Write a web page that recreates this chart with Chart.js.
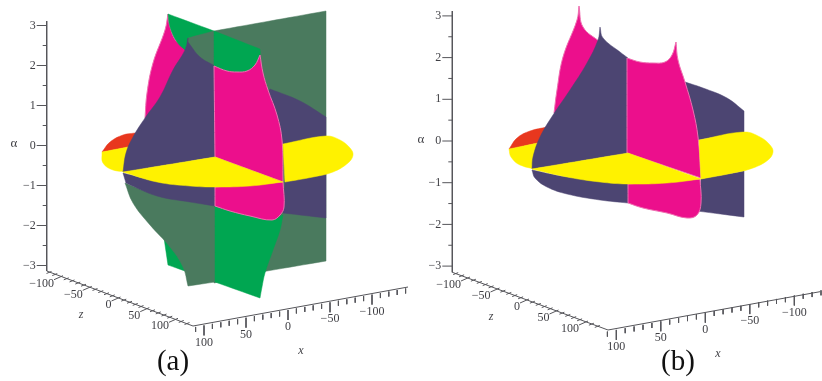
<!DOCTYPE html>
<html>
<head>
<meta charset="utf-8">
<title>Surfaces (a) and (b)</title>
<script src="https://cdn.jsdelivr.net/npm/chart.js@4/dist/chart.umd.min.js"></script>
<style>
  html, body { margin: 0; padding: 0; background: #fff; }
  canvas { display: block; }
</style>
</head>
<body>
<canvas id="surfaceChart" width="822" height="381"></canvas>
<script>
// tick values and labels
const alphaMajor = [3, 2, 1, 0, -1, -2, -3];
const alphaMinor = [2.5, 1.5, 0.5, -0.5, -1.5, -2.5];
const zMajor = [-100, -50, 0, 50, 100];
const zMinor = [-120, -110, -90, -80, -70, -60, -40, -30, -20, -10, 10, 20, 30, 40, 60, 70, 80, 90, 110, 120];
const xMajor = [100, 50, 0, -50, -100];
const xMinor = [110, 90, 80, 70, 60, 40, 30, 20, 10, -10, -20, -30, -40, -60, -70, -80, -90, -110, -120, -130, -140];

const PINK = '#ec0f8c';
const NAVY = '#4c4572';
const DKGREEN = '#4a7a5e';
const GREEN = '#00a651';
const YELLOW = '#fff200';
const RED = '#e8371e';

// panel (a) outlines. a third entry of 1 marks a sharp corner
const aPlaneRight = [[214,31,1],[326,11,1],[326,261,1],[267,271,1],[214,283,1]];
const aNavyRight = [[270,89,1],[300,101],[326,117,1],[326,137,1],[283,145,1],[262,100,1]];
const aRed = [[102,152,1],[110,142],[123,135],[135,133,1],[145,135,1],[128,147,1]];
const aDiscLeft = [[102,152,1],[128,147,1],[130,172,1],[113,170],[103,163]];
const aPinkBack = [[168,14,1],[165,30],[153,63],[147,93],[145,118,1],[170,120,1],[190,50,1],[177,42],[170,27]];
const aGreenBack = [[168,14,1],[214,31,1],[214,60,1],[188,52,1],[185,50,1],[177,42],[170,27]];
const aGreenLowBack = [[164,238,1],[168,265,1],[185,271,1],[190,255,1]];
const aPlaneLeft = [[188,38,1],[214,31,1],[214,70,1],[188,50,1]];
const aNavyFront = [[188,38,1],[185,50],[173,70],[160,97],[145,118],[133,137],[126,153],[123,172,1],[215,157,1],[215,66,1],[200,57],[188,42,1]];
const aGreenTop = [[214,31,1],[260,49,1],[260,55],[255,65],[247,71],[237,72],[227,71],[214,66,1]];
const aPinkFront = [[214,66,1],[227,71],[237,72],[247,71],[255,65],[260,55,1],[263,73],[268,90],[277,115],[282,140],[283,182,1],[215,157,1]];
const aDiscRight = [[283,144,1],[326,136],[340,140],[350,148],[353,155],[348,163],[333,172],[313,177],[285,182,1]];
const aNavyLowRight = [[285,182,1],[326,173,1],[326,218,1],[283,213,1]];
const aPlaneLowLeft = [[125,183,1],[133,203],[150,225],[170,247],[183,267],[188,286,1],[215,282,1],[215,205,1],[190,201],[157,195]];
const aNavyLow = [[123,173,1],[126,183,1],[157,196],[190,202],[215,206,1],[215,186,1],[157,181]];
const aPinkLow = [[215,187,1],[283,182,1],[284,207],[280,215],[272,220],[250,216],[230,211],[215,206,1]];
const aGreenLow = [[215,206,1],[230,211],[250,216],[272,220],[283,215,1],[280,230],[273,250],[265,273],[262,287],[260,298,1],[215,282,1]];
const aSector = [[123,172,1],[215,157,1],[283,182,1],[250,186],[215,187],[190,186],[157,182]];

// panel (b) outlines
const bNavyRight = [[685,82,1],[703,88],[727,98],[744,111,1],[744,132,1],[698,140,1]];
const bRed = [[509,149,1],[517,138],[530,131],[547,127,1],[556,130,1],[538,143,1]];
const bDiscLeft = [[509,149,1],[538,143,1],[540,170,1],[520,165],[511,157]];
const bPinkBack = [[579,6,1],[577,20],[563,57],[557,90],[554,113,1],[580,115,1],[600,42,1],[583,27]];
const bNavyFront = [[600,27,1],[598,40],[587,63],[570,90],[553,115],[540,137],[533,157],[532,169,1],[628,153,1],[628,58,1],[620,52],[603,38]];
const bPinkFront = [[627,58,1],[640,62],[653,63],[665,62],[672,55],[676,42,1],[678,60],[685,82],[693,110],[698,137],[701,178,1],[627,153,1]];
const bDiscRight = [[699,140,1],[744,132],[760,137],[770,145],[773,152],[768,160],[753,168],[733,173],[701,179,1]];
const bNavyLowRight = [[701,179,1],[744,171,1],[744,217,1],[697,211,1]];
const bNavyLow = [[532,170,1],[535,178],[547,187],[567,194],[600,200],[628,203,1],[628,184,1],[567,177]];
const bPinkLow = [[628,184,1],[700,179,1],[701,203],[697,215],[687,218],[667,213],[643,208],[628,203,1]];
const bSector = [[532,169,1],[628,153,1],[701,179,1],[667,183],[628,184],[600,182],[567,177]];

const panelShapes = [
    [aPlaneRight, DKGREEN], [aNavyRight, NAVY], [aRed, RED], [aDiscLeft, YELLOW],
    [aGreenLowBack, GREEN], [aPinkBack, PINK], [aGreenBack, GREEN], [aPlaneLeft, DKGREEN],
    [aNavyFront, NAVY], [aGreenTop, GREEN], [aPinkFront, PINK], [aNavyLowRight, NAVY],
    [aDiscRight, YELLOW], [aPlaneLowLeft, DKGREEN], [aNavyLow, NAVY], [aGreenLow, GREEN],
    [aPinkLow, PINK], [aSector, YELLOW],
    [bNavyRight, NAVY], [bRed, RED], [bDiscLeft, YELLOW], [bPinkBack, PINK],
    [bNavyFront, NAVY], [bPinkFront, PINK], [bNavyLowRight, NAVY], [bDiscRight, YELLOW],
    [bNavyLow, NAVY], [bPinkLow, PINK], [bSector, YELLOW]
];

// axes of both panels: where each axis sits in the picture
const panels = [
    {
        alpha: { x: 46.7, zero: 145.5, unit: 40, top: 21, bottom: 271 },
        z: { from: [46.7, 271], to: [193, 326], zeroX: 120.5, zeroY: 297, perUnitX: 0.575, perUnitY: 0.213 },
        x: { from: [193, 326], to: [408, 287], zeroX: 288, zeroY: 310, perUnitX: -0.84, perUnitY: 0.154 },
        alphaTitle: [14, 144], zTitle: [81, 315], xTitle: [301, 351], name: '(a)', namePos: [173, 362]
    },
    {
        alpha: { x: 452.3, zero: 141, unit: 41.7, top: 11, bottom: 272.3 },
        z: { from: [452.3, 272.3], to: [608, 330], zeroX: 529, zeroY: 299, perUnitX: 0.59, perUnitY: 0.22 },
        x: { from: [608, 330], to: [820, 291.7], zeroX: 705.3, zeroY: 312.7, perUnitX: -0.89, perUnitY: 0.172 },
        alphaTitle: [421, 140], zTitle: [491, 317], xTitle: [718, 354], name: '(b)', namePos: [678, 362]
    }
];

// corners are listed twice so the spline stays sharp there
function toPoints(outline) {
    const pts = [];
    outline.forEach(p => {
        pts.push({ x: p[0], y: p[1] });
        if (p[2]) pts.push({ x: p[0], y: p[1] });
    });
    pts.push({ x: outline[0][0], y: outline[0][1] });
    return pts;
}

function tickSegments(values, anchor, dx, dy) {
    const pts = [];
    values.forEach(v => {
        const a = anchor(v);
        pts.push({ x: a.x, y: a.y }, { x: a.x + dx, y: a.y + dy }, { x: NaN, y: NaN });
    });
    return pts;
}

function alphaAt(p, v) { return { x: p.alpha.x, y: p.alpha.zero - v * p.alpha.unit }; }
function zAt(p, v) { return { x: p.z.zeroX + v * p.z.perUnitX, y: p.z.zeroY + v * p.z.perUnitY }; }
function xAt(p, v) { return { x: p.x.zeroX + v * p.x.perUnitX, y: p.x.zeroY + v * p.x.perUnitY }; }

const datasets = [];
panelShapes.forEach(s => {
    const isPink = s[1] === PINK;
    datasets.push({
        data: toPoints(s[0]),
        showLine: true,
        fill: 'shape',
        tension: 0.4,
        backgroundColor: s[1],
        borderColor: isPink ? '#ee6fb0' : s[1],
        borderWidth: isPink ? 1 : 0.5,
        pointRadius: 0
    });
});

panels.forEach(p => {
    const axisLine = [
        { x: p.alpha.x, y: p.alpha.top }, { x: p.alpha.x, y: p.alpha.bottom }, { x: NaN, y: NaN },
        { x: p.z.from[0], y: p.z.from[1] }, { x: p.z.to[0], y: p.z.to[1] }, { x: p.x.to[0], y: p.x.to[1] }
    ];
    const ticks = axisLine.concat(
        [{ x: NaN, y: NaN }],
        tickSegments(alphaMajor, v => alphaAt(p, v), -10, 0),
        tickSegments(alphaMinor, v => alphaAt(p, v), -4, 0),
        tickSegments(zMajor, v => zAt(p, v), -9, 4),
        tickSegments(zMinor, v => zAt(p, v), -5, 2),
        tickSegments(xMajor, v => xAt(p, v), 0, 10),
        tickSegments(xMinor, v => xAt(p, v), 0, 5)
    );
    datasets.push({
        data: ticks,
        showLine: true,
        spanGaps: false,
        fill: false,
        tension: 0,
        borderColor: '#55555a',
        borderWidth: 1,
        pointRadius: 0
    });
});

// first dataset in the list goes at the back
datasets.forEach((d, i) => { d.order = datasets.length - i; });

function minusText(v) {
    return v < 0 ? '\u2212' + Math.abs(v) : String(v);
}

const axisTextPlugin = {
    id: 'axisText',
    afterDraw(chart) {
        const ctx = chart.ctx;
        const sx = chart.scales.x;
        const sy = chart.scales.y;
        const put = (text, x, y, align, font, color) => {
            ctx.font = font;
            ctx.fillStyle = color;
            ctx.textAlign = align;
            ctx.textBaseline = 'middle';
            ctx.fillText(text, sx.getPixelForValue(x), sy.getPixelForValue(y));
        };
        const tickFont = '12px "Liberation Serif"';
        const tickColor = '#3f3f44';
        ctx.save();
        panels.forEach(p => {
            alphaMajor.forEach(v => {
                const a = alphaAt(p, v);
                put(minusText(v), a.x - 11, a.y, 'right', tickFont, tickColor);
            });
            zMajor.forEach(v => {
                const a = zAt(p, v);
                put(minusText(v), a.x - 9, a.y + 8, 'right', tickFont, tickColor);
            });
            xMajor.forEach(v => {
                const a = xAt(p, v);
                put(minusText(v), a.x, a.y + 17, 'center', tickFont, tickColor);
            });
            put('\u03b1', p.alphaTitle[0], p.alphaTitle[1], 'center', '13px "Liberation Serif"', tickColor);
            put('z', p.zTitle[0], p.zTitle[1], 'center', 'italic 12px "Liberation Serif"', tickColor);
            put('x', p.xTitle[0], p.xTitle[1], 'center', 'italic 12px "Liberation Serif"', tickColor);
            put(p.name, p.namePos[0], p.namePos[1], 'center', '29px "Liberation Serif"', '#111');
        });
        ctx.restore();
    }
};

new Chart(document.getElementById('surfaceChart').getContext('2d'), {
    type: 'scatter',
    data: { datasets: datasets },
    options: {
        responsive: false,
        animation: false,
        layout: { padding: 0 },
        plugins: {
            legend: { display: false },
            tooltip: { enabled: false }
        },
        scales: {
            x: { type: 'linear', min: 0, max: 822, display: false },
            y: { type: 'linear', min: 0, max: 381, reverse: true, display: false }
        }
    },
    plugins: [axisTextPlugin]
});
</script>
</body>
</html>
